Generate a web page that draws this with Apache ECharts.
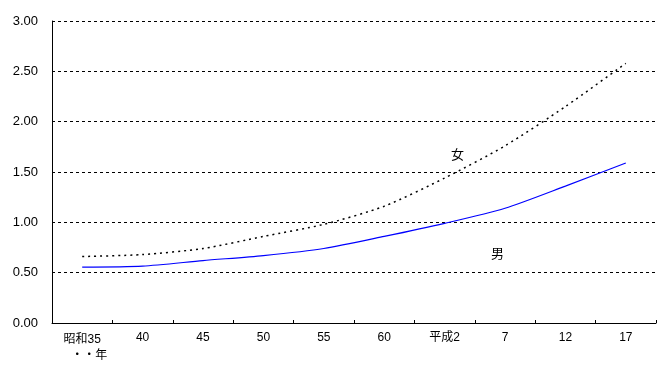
<!DOCTYPE html>
<html><head><meta charset="utf-8">
<script src="https://cdn.jsdelivr.net/npm/echarts@6/dist/echarts.min.js"></script>
<style>html,body{margin:0;padding:0;background:#fff}#c{width:665px;height:376px}</style>
</head><body><div id="c"></div>
<script>
const categories = ['昭和35', '40', '45', '50', '55', '60', '平成2', '7', '12', '17'];
const female = [0.66, 0.68, 0.74, 0.86, 0.98, 1.16, 1.44, 1.76, 2.15, 2.58];
const male = [0.555, 0.565, 0.62, 0.67, 0.74, 0.86, 0.99, 1.14, 1.36, 1.59];
const yTicks = [0, 0.5, 1, 1.5, 2, 2.5, 3];

const FONT = '"Liberation Sans", "Noto Sans CJK JP", sans-serif';
const chart = echarts.init(document.getElementById('c'));
chart.setOption({
  animation: false,
  backgroundColor: '#fff',
  grid: { left: 52, right: 9, top: 21, bottom: 53, containLabel: false },
  xAxis: {
    type: 'category',
    data: categories,
    boundaryGap: true,
    axisLine: { lineStyle: { color: '#000', width: 1 } },
    axisTick: { show: true, inside: true, length: 3, interval: 0, lineStyle: { color: '#000' } },
    axisLabel: {
      interval: 0,
      color: '#000', fontSize: 12, fontFamily: FONT, margin: 9,
      formatter: function (v, i) { return i === 0 ? '{a|' + v + '}\n{b|・・年}' : v; },
      rich: {
        a: { fontSize: 12, fontFamily: FONT, color: '#000', lineHeight: 16 },
        b: { fontSize: 12, fontFamily: FONT, color: '#000', lineHeight: 16, padding: [0, 0, 0, 14] }
      }
    },
    splitLine: { show: false }
  },
  yAxis: {
    type: 'value',
    min: yTicks[0], max: yTicks[yTicks.length - 1], interval: 0.5,
    axisLine: { show: true, lineStyle: { color: '#000', width: 1 } },
    axisTick: { show: false },
    axisLabel: { color: '#000', fontSize: 13, fontFamily: FONT, margin: 14,
      formatter: function (v) { return v.toFixed(2); } },
    splitLine: { show: true, lineStyle: { color: '#000', type: [3, 3], width: 1 } }
  },
  series: [
    { name: '女', type: 'line', data: female, symbol: 'none', smooth: 0.25,
      lineStyle: { color: '#000', width: 1.5, type: [2, 4] } },
    { name: '男', type: 'line', data: male, symbol: 'none', smooth: 0.25,
      lineStyle: { color: '#0000ff', width: 1.2 } }
  ],
  graphic: [
    { type: 'text', left: 451, top: 149, style: { text: '女', fontSize: 13, fontFamily: FONT, fill: '#000' } },
    { type: 'text', left: 491, top: 248, style: { text: '男', fontSize: 13, fontFamily: FONT, fill: '#000' } }
  ]
});
</script></body></html>
